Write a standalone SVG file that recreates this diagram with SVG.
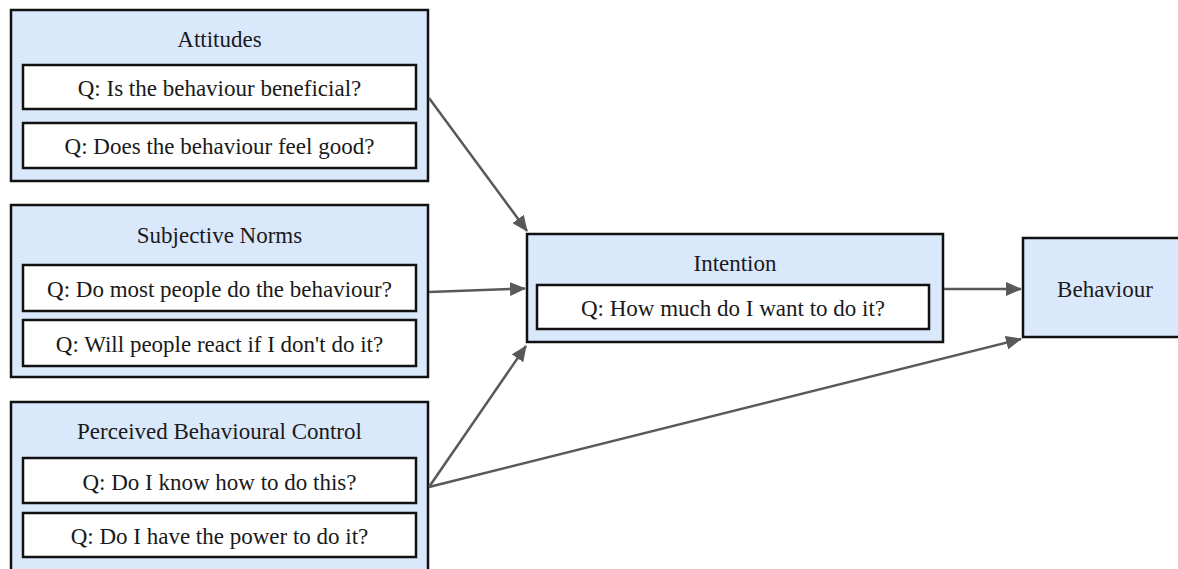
<svg xmlns="http://www.w3.org/2000/svg" width="1178" height="569" viewBox="0 0 1178 569">
<style>
.outer{fill:#dae8fc;stroke:#111;stroke-width:2.5}
.inner{fill:#fff;stroke:#111;stroke-width:2.5}
text{font-family:"Liberation Serif","Times New Roman",serif;font-size:23px;fill:#1a1a1a;text-anchor:middle}
.conn{stroke:#595959;stroke-width:2.5;fill:none;marker-end:url(#ah)}
</style>
<defs>
<marker id="ah" markerUnits="userSpaceOnUse" markerWidth="16" markerHeight="14" refX="15" refY="7" orient="auto">
<path d="M0,0 L16,7 L0,14 Z" fill="#595959"/>
</marker>
</defs>
<rect width="1178" height="569" fill="#fff"/>
<g id="attitudes">
<rect class="outer" x="11" y="10" width="417" height="171"/>
<text x="219.5" y="47">Attitudes</text>
<rect class="inner" x="23" y="65" width="393" height="44"/>
<text x="219.5" y="96">Q: Is the behaviour beneficial?</text>
<rect class="inner" x="23" y="123" width="393" height="45"/>
<text x="219.5" y="154">Q: Does the behaviour feel good?</text>
</g>
<g id="subjective-norms">
<rect class="outer" x="11" y="205" width="417" height="172"/>
<text x="219.5" y="243">Subjective Norms</text>
<rect class="inner" x="23" y="265" width="393" height="46"/>
<text x="219.5" y="297">Q: Do most people do the behaviour?</text>
<rect class="inner" x="23" y="320" width="393" height="46"/>
<text x="219.5" y="352">Q: Will people react if I don't do it?</text>
</g>
<g id="pbc">
<rect class="outer" x="11" y="402" width="417" height="190"/>
<text x="219.5" y="439">Perceived Behavioural Control</text>
<rect class="inner" x="23" y="458" width="393" height="45"/>
<text x="219.5" y="490">Q: Do I know how to do this?</text>
<rect class="inner" x="23" y="513" width="393" height="44"/>
<text x="219.5" y="544">Q: Do I have the power to do it?</text>
</g>
<g id="intention">
<rect class="outer" x="527" y="234" width="416" height="108"/>
<text x="735" y="271">Intention</text>
<rect class="inner" x="537" y="285" width="392" height="44"/>
<text x="733" y="316">Q: How much do I want to do it?</text>
</g>
<g id="behaviour">
<rect class="outer" x="1023" y="238" width="170" height="99"/>
<text x="1105" y="297">Behaviour</text>
</g>
<g id="connectors">
<path class="conn" d="M429,98 L527,231"/>
<path class="conn" d="M429,292 L525,288.5"/>
<path class="conn" d="M429,487 L526,346"/>
<path class="conn" d="M429,487 L1021,339"/>
<path class="conn" d="M944,289 L1021,289"/>
</g>
</svg>
